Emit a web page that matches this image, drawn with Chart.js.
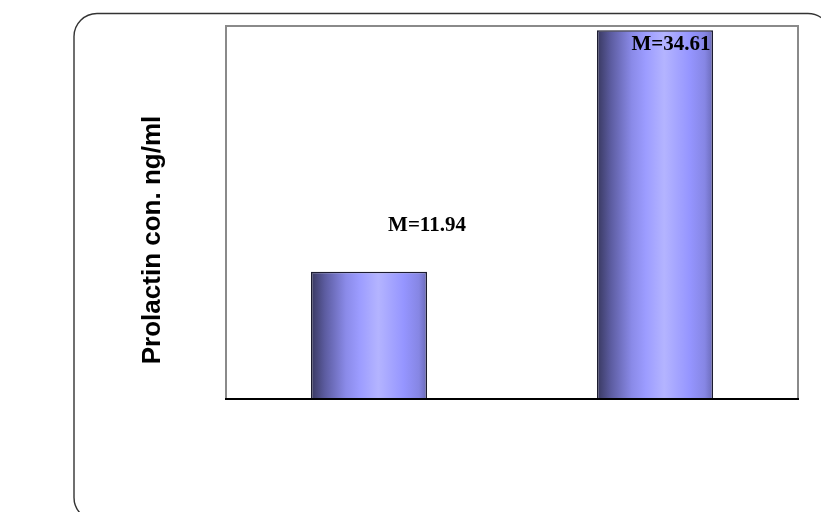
<!DOCTYPE html>
<html>
<head>
<meta charset="utf-8">
<script src="https://cdn.jsdelivr.net/npm/chart.js@4.4.1/dist/chart.umd.min.js"></script>
<style>
  html, body { margin: 0; padding: 0; background: #ffffff; }
  #wrap { width: 821px; height: 512px; }
</style>
</head>
<body>
<div id="wrap"><canvas id="c" width="821" height="512"></canvas></div>
<script>
// ---- data ----
const categories = ["Group 1", "Group 2"];
const prolactinMeans = [11.94, 34.61];
const barLabels = ["M=11.94", "M=34.61"];
const yTitle = "Prolactin con. ng/ml";
const yMin = 0;
const yMax = 35;

const BAR_PCT = 0.406;

function barGradient(context) {
  const chart = context.chart;
  const area = chart.chartArea;
  const xs = chart.scales.x;
  if (!area || !xs) return '#9999ff';
  const cx = xs.getPixelForValue(context.dataIndex);
  const half = (area.width / categories.length) * BAR_PCT / 2;
  const g = chart.ctx.createLinearGradient(cx - half, 0, cx + half, 0);
  g.addColorStop(0.00, '#38385f');
  g.addColorStop(0.12, '#5c5ca0');
  g.addColorStop(0.30, '#8a8ae8');
  g.addColorStop(0.42, '#9c9cff');
  g.addColorStop(0.58, '#b4b4ff');
  g.addColorStop(0.80, '#9595ff');
  g.addColorStop(0.93, '#8686e4');
  g.addColorStop(1.00, '#6a6ab8');
  return g;
}

const framePlugin = {
  id: 'frame',
  beforeDraw(chart) {
    const ctx = chart.ctx;
    ctx.save();
    ctx.fillStyle = '#ffffff';
    ctx.fillRect(0, 0, chart.width, chart.height);
    ctx.beginPath();
    ctx.roundRect(74, 13.5, 757, 507, 23);
    ctx.strokeStyle = '#333333';
    ctx.lineWidth = 1.4;
    ctx.stroke();
    ctx.restore();
  },
  afterDatasetsDraw(chart) {
    const ctx = chart.ctx;
    const a = chart.chartArea;
    ctx.save();
    // plot area border (grey left/top/right)
    ctx.strokeStyle = '#8a8a8a';
    ctx.lineWidth = 2;
    ctx.beginPath();
    ctx.moveTo(a.left, a.bottom);
    ctx.lineTo(a.left, a.top);
    ctx.lineTo(a.right, a.top);
    ctx.lineTo(a.right, a.bottom);
    ctx.stroke();
    // baseline
    ctx.strokeStyle = '#000000';
    ctx.lineWidth = 2;
    ctx.beginPath();
    ctx.moveTo(a.left - 1, a.bottom);
    ctx.lineTo(a.right + 1, a.bottom);
    ctx.stroke();

    // bar value labels
    const meta = chart.getDatasetMeta(0);
    const offsets = [[58, -46], [16, 14]];
    ctx.fillStyle = '#000000';
    ctx.font = 'bold 21px "Liberation Serif", "Times New Roman", serif';
    ctx.textAlign = 'center';
    ctx.textBaseline = 'middle';
    meta.data.forEach((bar, i) => {
      ctx.fillText(barLabels[i], bar.x + offsets[i][0], bar.y + offsets[i][1]);
    });

    // y axis title
    ctx.save();
    ctx.translate(153, 240);
    ctx.rotate(-Math.PI / 2);
    ctx.font = 'bold 26px "Liberation Sans", Arial, sans-serif';
    ctx.textAlign = 'center';
    ctx.textBaseline = 'middle';
    ctx.fillText(yTitle, 0, 0);
    ctx.restore();
    ctx.restore();
  }
};

new Chart(document.getElementById('c'), {
  type: 'bar',
  data: {
    labels: categories,
    datasets: [{
      data: prolactinMeans,
      backgroundColor: barGradient,
      borderColor: '#1c1c30',
      borderWidth: 1.5,
      borderSkipped: 'start',
      barPercentage: 1,
      categoryPercentage: BAR_PCT
    }]
  },
  options: {
    responsive: false,
    animation: false,
    layout: { padding: { left: 226, right: 23, top: 26, bottom: 113 } },
    plugins: { legend: { display: false }, tooltip: { enabled: false } },
    scales: {
      x: { display: false },
      y: { display: false, min: yMin, max: yMax }
    }
  },
  plugins: [framePlugin]
});
</script>
</body>
</html>
